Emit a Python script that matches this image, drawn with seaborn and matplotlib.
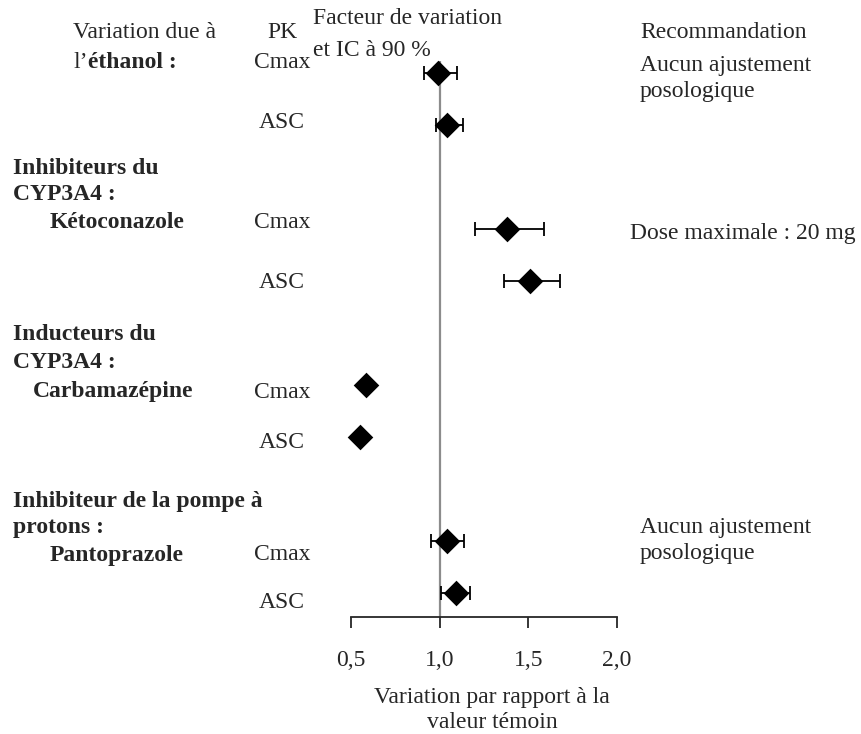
import matplotlib
matplotlib.use("Agg")
import matplotlib.pyplot as plt
import pandas as pd
import seaborn as sns

# ------------------------------------------------
# Data
# ------------------------------------------------
groups = ["Éthanol", "Éthanol", "Kétoconazole", "Kétoconazole",
          "Carbamazépine", "Carbamazépine", "Pantoprazole", "Pantoprazole"]
pk = ["Cmax", "ASC", "Cmax", "ASC", "Cmax", "ASC", "Cmax", "ASC"]
ratio = [0.99, 1.04, 1.38, 1.51, 0.585, 0.55, 1.04, 1.09]
ci_low = [0.91, 0.98, 1.20, 1.36, 0.575, 0.545, 0.95, 1.01]
ci_high = [1.10, 1.13, 1.59, 1.68, 0.595, 0.56, 1.14, 1.17]

tick_values = [0.5, 1.0, 1.5, 2.0]
tick_labels = ["0,5", "1,0", "1,5", "2,0"]

# row slots (layout): two rows per group, one empty slot between groups
row_slot = [0, 1, 3, 4, 6, 7, 9, 10]

df = pd.DataFrame({
    "group": groups, "pk": pk, "ratio": ratio,
    "low": ci_low, "high": ci_high, "row": row_slot,
})

sns.set_style("white")
plt.rcParams["font.family"] = ["Liberation Serif", "DejaVu Serif"]
plt.rcParams["font.size"] = 17

W, H = 861, 734
fig = plt.figure(figsize=(W / 100, H / 100), dpi=100)
ax = fig.add_axes([351 / W, 1 - 617 / H, (617 - 351) / W, (617 - 61) / H])


def px_text(x, y, s, **kw):
    """Place text using pixel coordinates of the figure (top-left origin)."""
    kw.setdefault("va", "center")
    return fig.text(x / W, 1 - y / H, s, **kw)


# ------------------------------------------------
# Forest plot
# ------------------------------------------------
ax.axvline(1.0, color="#8c8c8c", lw=1.6, zorder=1)
ax.errorbar(
    df["ratio"], df["row"],
    xerr=[df["ratio"] - df["low"], df["high"] - df["ratio"]],
    fmt="none", ecolor="black", elinewidth=1.3,
    capsize=5.3, capthick=1.3, zorder=2,
)
sns.scatterplot(
    data=df, x="ratio", y="row", marker="D", s=170,
    color="black", edgecolor="black", linewidth=0, ax=ax, zorder=3,
    clip_on=False,
)

ax.set_xlim(0.5, 2.0)
ax.set_ylim(10.46, -0.23)
ax.set_xticks(tick_values)
ax.set_xticklabels(tick_labels)
ax.set_yticks([])
ax.set_xlabel("")
ax.set_ylabel("")
sns.despine(ax=ax, left=True)
ax.spines["bottom"].set_linewidth(1.3)
ax.tick_params(axis="x", direction="out", length=8, width=1.3,
               pad=16, labelsize=17, bottom=True)

# x axis title
px_text(492, 697, "Variation par rapport à la", ha="center")
px_text(492, 722, "valeur témoin", ha="center")

# ------------------------------------------------
# Column headers
# ------------------------------------------------
px_text(73, 33, "Variation due à")
t_l = px_text(73, 62, "l’")
ax.annotate("éthanol :", xy=(1, 0), xycoords=t_l, va="bottom",
            fontweight="bold", annotation_clip=False)
px_text(282, 33, "PK", ha="center")
px_text(313, 19, "Facteur de variation")
px_text(313, 50, "et IC à 90 %")
px_text(640, 32, "Recommandation")

# ------------------------------------------------
# Row labels
# ------------------------------------------------
px_text(13, 169, "Inhibiteurs du", fontweight="bold")
px_text(13, 195, "CYP3A4 :", fontweight="bold")
px_text(50, 223, "Kétoconazole", fontweight="bold")

px_text(13, 335, "Inducteurs du", fontweight="bold")
px_text(13, 363, "CYP3A4 :", fontweight="bold")
px_text(33, 392, "Carbamazépine", fontweight="bold")

px_text(13, 501, "Inhibiteur de la pompe à", fontweight="bold")
px_text(13, 527, "protons :", fontweight="bold")
px_text(50, 555, "Pantoprazole", fontweight="bold")

# PK parameter labels
pk_label_y = [62, 123, 223, 282, 392, 443, 555, 603]
for lab, y in zip(pk, pk_label_y):
    px_text(282, y, lab, ha="center")

# ------------------------------------------------
# Recommendations
# ------------------------------------------------
px_text(640, 65, "Aucun ajustement")
px_text(640, 92, "posologique")
px_text(630, 233, "Dose maximale : 20 mg")
px_text(640, 527, "Aucun ajustement")
px_text(640, 553, "posologique")

fig.savefig("out.png", dpi=100)
